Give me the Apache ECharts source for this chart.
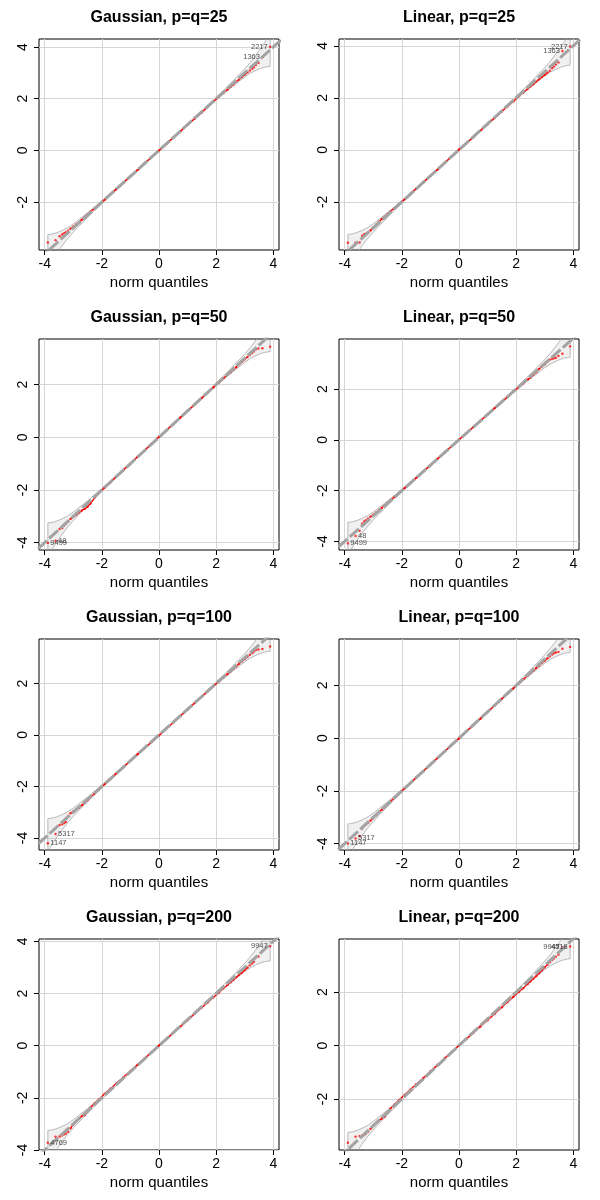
<!DOCTYPE html>
<html>
<head>
<meta charset="utf-8">
<script src="https://cdn.jsdelivr.net/npm/echarts@6/dist/echarts.min.js"></script>
<style>
html,body{margin:0;padding:0;background:#fff;}
#chart{width:600px;height:1200px;}
</style>
</head>
<body>
<div id="chart"></div>
<script>
// theoretical normal quantiles (shared by every panel)
var qx = [-3.89,-3.62,-3.48,-3.39,-3.32,-3.26,-3.18,-3.1,-3.0,-2.9,-2.8,-2.7,-2.6,-2.5,-2.4,-2.25,-2.1,-1.9,-1.7,-1.5,-1.25,-1.0,-0.75,-0.5,-0.25,0,
          0.25,0.5,0.75,1.0,1.25,1.5,1.7,1.9,2.1,2.25,2.4,2.5,2.6,2.7,2.8,2.9,3.0,3.1,3.18,3.26,3.32,3.39,3.48,3.62,3.89];

// sample quantiles
var yG25 = [-3.56,-3.47,-3.32,-3.25,-3.2,-3.16,-3.10,-3.03,-2.95,-2.86,-2.78,-2.68,-2.57,-2.48,-2.37,-2.24,-2.1,-1.91,-1.7,-1.5,-1.25,-1.0,-0.76,-0.5,-0.25,0.0,
            0.25,0.49,0.74,0.98,1.23,1.47,1.68,1.88,2.08,2.22,2.36,2.45,2.55,2.66,2.74,2.84,2.93,3.02,3.09,3.16,3.22,3.30,3.38,3.60,4.01];
var yL25 = [-3.57,-3.57,-3.56,-3.3,-3.24,-3.22,-3.17,-3.1,-2.98,-2.88,-2.76,-2.66,-2.57,-2.46,-2.37,-2.23,-2.09,-1.9,-1.69,-1.49,-1.25,-1.0,-0.76,-0.5,-0.25,0.01,
            0.24,0.48,0.73,0.98,1.22,1.47,1.67,1.86,2.06,2.2,2.34,2.43,2.52,2.62,2.71,2.8,2.88,2.97,3.04,3.14,3.2,3.28,3.36,3.80,3.97];
var yG50 = [-4.01,-3.93,-3.48,-3.45,-3.35,-3.28,-3.2,-3.1,-3.02,-2.95,-2.86,-2.78,-2.72,-2.64,-2.52,-2.3,-2.12,-1.91,-1.71,-1.5,-1.24,-1.0,-0.74,-0.49,-0.24,0.02,
            0.26,0.5,0.75,1.0,1.24,1.49,1.69,1.89,2.08,2.23,2.37,2.46,2.57,2.66,2.77,2.86,2.96,3.05,3.12,3.2,3.26,3.34,3.37,3.38,3.44];
var yL50 = [-4.08,-3.79,-3.58,-3.3,-3.22,-3.17,-3.1,-3.03,-2.95,-2.86,-2.77,-2.68,-2.58,-2.48,-2.38,-2.24,-2.1,-1.9,-1.7,-1.5,-1.25,-1.0,-0.75,-0.5,-0.24,0.01,
            0.25,0.5,0.75,1.0,1.25,1.5,1.69,1.89,2.08,2.22,2.37,2.45,2.55,2.66,2.79,2.88,2.97,3.08,3.15,3.19,3.21,3.23,3.3,3.39,3.68];
var yG100 = [-4.21,-3.85,-3.5,-3.47,-3.42,-3.38,-3.15,-3.04,-2.97,-2.91,-2.83,-2.73,-2.63,-2.54,-2.42,-2.27,-2.12,-1.91,-1.71,-1.5,-1.25,-1.0,-0.75,-0.51,-0.27,-0.03,
             0.23,0.48,0.74,0.99,1.24,1.49,1.69,1.89,2.09,2.23,2.37,2.47,2.57,2.66,2.77,2.86,2.95,3.04,3.12,3.18,3.24,3.3,3.32,3.34,3.44];
var yL100 = [-3.99,-3.8,-3.71,-3.43,-3.33,-3.27,-3.22,-3.13,-3.03,-2.92,-2.8,-2.71,-2.61,-2.5,-2.4,-2.25,-2.1,-1.9,-1.7,-1.5,-1.25,-1.0,-0.75,-0.5,-0.25,-0.01,
             0.24,0.49,0.74,0.99,1.24,1.49,1.68,1.88,2.08,2.23,2.37,2.47,2.56,2.66,2.75,2.85,2.94,3.03,3.1,3.17,3.22,3.25,3.27,3.39,3.46];
var yG200 = [-3.72,-3.49,-3.48,-3.44,-3.4,-3.37,-3.3,-3.17,-3.02,-2.9,-2.8,-2.7,-2.66,-2.52,-2.38,-2.21,-2.05,-1.84,-1.65,-1.45,-1.21,-0.97,-0.73,-0.48,-0.24,0.01,
             0.25,0.49,0.73,0.97,1.22,1.46,1.65,1.85,2.04,2.19,2.33,2.43,2.52,2.62,2.71,2.8,2.9,3.0,3.08,3.15,3.22,3.38,3.42,3.63,3.81];
var yL200 = [-3.64,-3.41,-3.39,-3.37,-3.35,-3.3,-3.22,-3.12,-3.0,-2.9,-2.81,-2.73,-2.66,-2.5,-2.36,-2.2,-2.04,-1.84,-1.64,-1.45,-1.21,-0.96,-0.72,-0.47,-0.23,0.0,
             0.24,0.47,0.71,0.95,1.19,1.43,1.63,1.82,2.01,2.15,2.3,2.4,2.5,2.6,2.71,2.82,2.93,3.03,3.12,3.2,3.26,3.33,3.4,3.68,3.71];

var titles = ['Gaussian, p=q=25','Linear, p=q=25','Gaussian, p=q=50','Linear, p=q=50',
              'Gaussian, p=q=100','Linear, p=q=100','Gaussian, p=q=200','Linear, p=q=200'];
var panelY = [yG25, yL25, yG50, yL50, yG100, yL100, yG200, yL200];

// axis extents and ticks
var xRange = [-4.2, 4.2];
var xTicks = [-4, -2, 0, 2, 4];
var yMin = [-3.85, -3.85, -4.28, -4.34, -4.47, -4.24, -4.0, -3.91];
var yMax = [4.31, 4.26, 3.73, 3.97, 3.73, 3.76, 4.09, 3.99];
var yTicks = [[-2,0,2,4],[-2,0,2,4],[-4,-2,0,2],[-4,-2,0,2],[-4,-2,0,2],[-4,-2,0,2],[-4,-2,0,2,4],[-2,0,2]];

// confidence envelope (same shape in every panel)
var envX  = [-3.89,-3.8,-3.7,-3.55,-3.4,-3.2,-3.0,-2.8,-2.5,-2.0,-1.0,0,1.0,2.0,2.5,2.8,3.0,3.2,3.4,3.55,3.7,3.8,3.89];
var envHi = [-3.25,-3.24,-3.22,-3.17,-3.1,-2.99,-2.84,-2.67,-2.41,-1.95,-0.97,0.03,1.03,2.05,2.59,2.93,3.16,3.41,3.7,3.93,4.18,4.36,4.55];
var envLo = [-4.55,-4.36,-4.18,-3.93,-3.7,-3.41,-3.16,-2.93,-2.59,-2.05,-1.03,-0.03,0.97,1.95,2.41,2.67,2.84,2.99,3.1,3.17,3.22,3.24,3.25];

// reference line end points
var refLine = [[-5, -5], [5, 5]];

// labelled observations: ids and their index in qx
var idNames = [['2217','1363'],['2217','1363'],['48','9499'],['48','9499'],
               ['5317','1147'],['5317','1147'],['9947','4769'],['9947','4518']];
var idIndex = [[50,49],[50,49],[1,0],[1,0],[1,0],[1,0],[50,0],[49,50]];

var FONT = '"Liberation Sans", Arial, Helvetica, sans-serif';

var chart = echarts.init(document.getElementById('chart'));

var grids = [], xAxes = [], yAxes = [], titleList = [], series = [];

for (var k = 0; k < 8; k++) {
    var col = k % 2, row = Math.floor(k / 2);
    var gl = 39 + col * 300, gt = 39 + row * 300;
    grids.push({
        left: gl, top: gt, width: 240, height: 211,
        show: true, borderColor: '#000', borderWidth: 1, backgroundColor: 'transparent'
    });
    titleList.push({
        text: titles[k], left: gl + 120, top: gt - 29, textAlign: 'center', padding: 0,
        textStyle: {fontFamily: FONT, fontSize: 16, fontWeight: 'bold', color: '#000'}
    });
    xAxes.push({
        type: 'value', gridIndex: k, min: xRange[0], max: xRange[1],
        name: 'norm quantiles', nameLocation: 'middle', nameGap: 25,
        nameTextStyle: {fontFamily: FONT, fontSize: 15, color: '#000'},
        axisLine: {show: false, onZero: false},
        axisTick: {show: true, length: 5, lineStyle: {color: '#000'}, customValues: xTicks},
        axisLabel: {fontFamily: FONT, fontSize: 14, color: '#000', margin: 7, customValues: xTicks},
        splitLine: {show: true, lineStyle: {color: '#d6d6d6', width: 1}}
    });
    yAxes.push({
        type: 'value', gridIndex: k, min: yMin[k], max: yMax[k],
        axisLine: {show: false, onZero: false},
        axisTick: {show: true, length: 5, lineStyle: {color: '#000'}, customValues: yTicks[k]},
        axisLabel: {fontFamily: FONT, fontSize: 14, color: '#000', margin: 9, rotate: 90, customValues: yTicks[k]},
        splitLine: {show: true, lineStyle: {color: '#d6d6d6', width: 1}}
    });

    var ys = panelY[k];
    var pts = qx.map(function (x, i) { return [x, ys[i]]; });
    var dense = pts.filter(function (p) { return Math.abs(p[0]) <= 3.1; });

    // envelope
    series.push({
        type: 'custom', xAxisIndex: k, yAxisIndex: k, z: 2, silent: true,
        data: [[0, 0]],
        renderItem: function (params, api) {
            var poly = [];
            for (var i = 0; i < envX.length; i++) poly.push(api.coord([envX[i], envHi[i]]));
            for (var j = envX.length - 1; j >= 0; j--) poly.push(api.coord([envX[j], envLo[j]]));
            var cs = params.coordSys;
            return {
                type: 'polygon',
                shape: {points: poly},
                style: {fill: 'rgba(150,150,150,0.14)', stroke: '#a9a9a9', lineWidth: 0.8},
                clipPath: {type: 'rect', shape: {x: cs.x, y: cs.y, width: cs.width, height: cs.height}}
            };
        }
    });
    // dense run of points
    series.push({
        type: 'line', xAxisIndex: k, yAxisIndex: k, z: 3, silent: true,
        data: dense, showSymbol: false, lineStyle: {color: '#ff0000', width: 1.3}
    });
    series.push({
        type: 'scatter', xAxisIndex: k, yAxisIndex: k, z: 3, silent: true,
        data: pts, symbolSize: 2.4, itemStyle: {color: '#ff0000'}
    });
    // reference line
    series.push({
        type: 'line', xAxisIndex: k, yAxisIndex: k, z: 4, silent: true, clip: true,
        data: refLine, showSymbol: false,
        lineStyle: {color: '#a3a3a3', width: 3, type: [12, 3]}
    });
    // point ids
    series.push({
        type: 'scatter', xAxisIndex: k, yAxisIndex: k, z: 5, silent: true,
        symbolSize: 1,
        itemStyle: {color: 'rgba(0,0,0,0)'},
        data: idIndex[k].map(function (ix, j) {
            return {
                value: [qx[ix], ys[ix]],
                label: {
                    show: true, formatter: idNames[k][j],
                    position: qx[ix] > 0 ? 'left' : 'right', distance: 2,
                    fontFamily: FONT, fontSize: 7.5, color: '#222'
                }
            };
        })
    });
}

chart.setOption({
    backgroundColor: '#fff',
    animation: false,
    title: titleList,
    grid: grids,
    xAxis: xAxes,
    yAxis: yAxes,
    series: series
});
</script>
</body>
</html>
